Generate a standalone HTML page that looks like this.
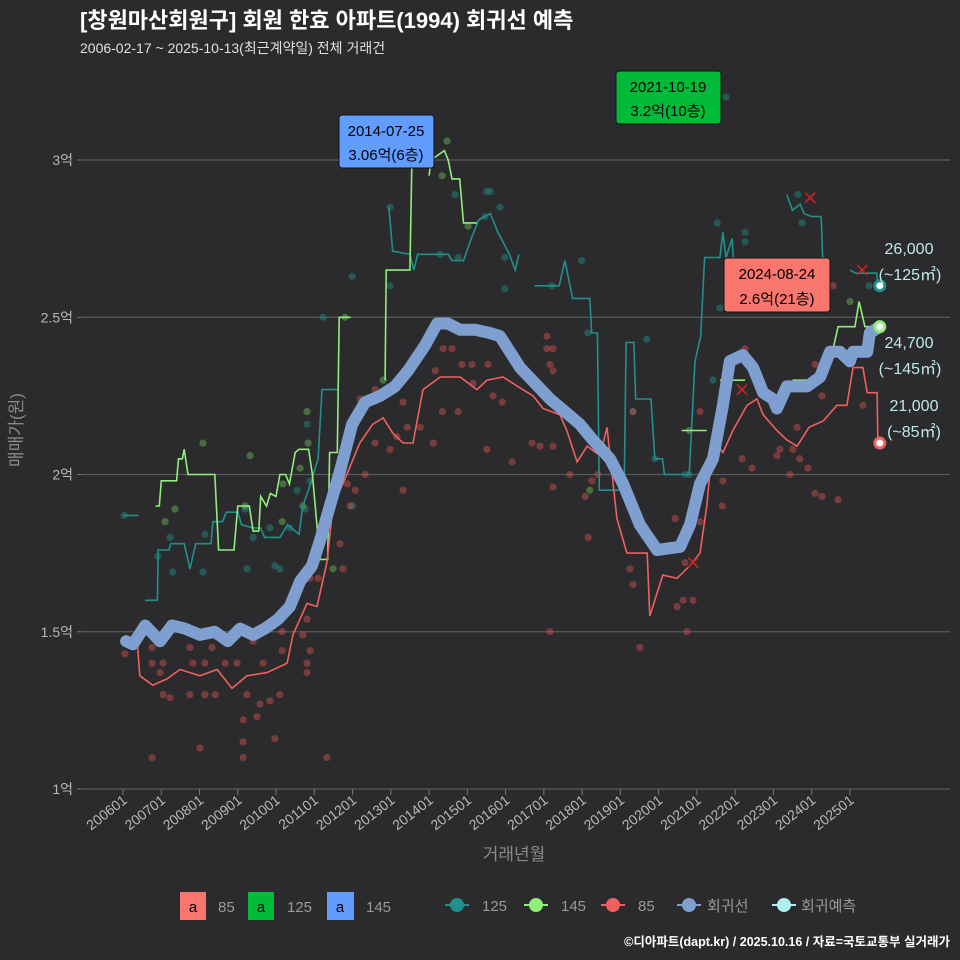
<!DOCTYPE html>
<html><head><meta charset="utf-8">
<style>
html,body{margin:0;padding:0;background:#2b2b2d;}
svg{display:block;font-family:"Liberation Sans","Noto Sans CJK KR",sans-serif;}
</style></head>
<body>
<svg id="chart" width="960" height="960" viewBox="0 0 960 960" xmlns="http://www.w3.org/2000/svg">
<rect x="0" y="0" width="960" height="960" fill="#2b2b2d"/>
<text x="80" y="28" fill="#ffffff" font-size="22" font-weight="bold">[창원마산회원구] 회원 한효 아파트(1994) 회귀선 예측</text>
<text x="80" y="53" fill="#e0e0e0" font-size="14">2006-02-17 ~ 2025-10-13(최근계약일) 전체 거래건</text>
<g id="grid"></g>
<g id="points"></g>
<g id="lines"></g>
<g id="marks"></g>
<text transform="translate(22,430) rotate(-90)" text-anchor="middle" fill="#8a8a8a" font-size="17">매매가(원)</text>
<text x="514" y="860" text-anchor="middle" fill="#8a8a8a" font-size="17">거래년월</text>

<g>
<rect x="339" y="115" width="95" height="53" rx="3" fill="#619cff" stroke="#111"/>
<text x="386" y="136" text-anchor="middle" font-size="15" fill="#000">2014-07-25</text>
<text x="386" y="160" text-anchor="middle" font-size="15" fill="#000">3.06억(6층)</text>
</g>
<g>
<rect x="616" y="71" width="105" height="53" rx="3" fill="#00ba38" stroke="#111"/>
<text x="668" y="92" text-anchor="middle" font-size="15" fill="#000">2021-10-19</text>
<text x="668" y="116" text-anchor="middle" font-size="15" fill="#000">3.2억(10층)</text>
</g>
<g>
<rect x="724" y="258" width="106" height="54" rx="3" fill="#f8766d" stroke="#111"/>
<text x="777" y="279" text-anchor="middle" font-size="15" fill="#000">2024-08-24</text>
<text x="777" y="304" text-anchor="middle" font-size="15" fill="#000">2.6억(21층)</text>
</g>
<g fill="#bfe9e6" font-size="16" text-anchor="middle">
<text x="909" y="254">26,000</text>
<text x="910" y="280">(~125㎡)</text>
<text x="909" y="348">24,700</text>
<text x="910" y="374">(~145㎡)</text>
<text x="914" y="411">21,000</text>
<text x="914" y="437">(~85㎡)</text>
</g>

<g font-size="15" fill="#9a9a9a">
<rect x="180" y="892" width="26" height="28" fill="#f8766d"/>
<text x="193" y="912" text-anchor="middle" fill="#000">a</text>
<text x="218" y="912">85</text>
<rect x="248" y="892" width="26" height="28" fill="#00ba38"/>
<text x="261" y="912" text-anchor="middle" fill="#000">a</text>
<text x="287" y="912">125</text>
<rect x="327" y="892" width="27" height="28" fill="#619cff"/>
<text x="340" y="912" text-anchor="middle" fill="#000">a</text>
<text x="366" y="912">145</text>
<g><line x1="445" y1="905" x2="469" y2="905" stroke="#21908c" stroke-width="2"/><circle cx="457" cy="905" r="7" fill="#21908c"/></g>
<text x="482" y="911">125</text>
<g><line x1="524" y1="905" x2="548" y2="905" stroke="#90ee7a" stroke-width="2"/><circle cx="536" cy="905" r="7" fill="#90ee7a"/></g>
<text x="561" y="911">145</text>
<g><line x1="601" y1="905" x2="625" y2="905" stroke="#f0605f" stroke-width="2"/><circle cx="613" cy="905" r="7" fill="#f0605f"/></g>
<text x="638" y="911">85</text>
<g><line x1="677" y1="905" x2="701" y2="905" stroke="#7f9fd0" stroke-width="2"/><circle cx="689" cy="905" r="7" fill="#7f9fd0"/></g>
<text x="707" y="911">회귀선</text>
<g><line x1="772" y1="905" x2="796" y2="905" stroke="#aef0ee" stroke-width="2"/><circle cx="784" cy="905" r="7" fill="#aef0ee"/></g>
<text x="801" y="911">회귀예측</text>
</g>
<text x="950" y="946" text-anchor="end" fill="#ffffff" font-size="12.5" font-weight="bold">©디아파트(dapt.kr) / 2025.10.16 / 자료=국토교통부 실거래가</text>
</svg>
<script>
const yTicks = [1, 1.5, 2, 2.5, 3];
const yTickLabels = ["1억", "1.5억", "2억", "2.5억", "3억"];
const xTickYears = [2006,2007,2008,2009,2010,2011,2012,2013,2014,2015,2016,2017,2018,2019,2020,2021,2022,2023,2024,2025];
const xTickLabels = ["200601","200701","200801","200901","201001","201101","201201","201301","201401","201501","201601","201701","201801","201901","202001","202101","202201","202301","202401","202501"];

const regressionLine = [[2006.08,1.47],[2006.26,1.46],[2006.58,1.52],[2006.97,1.47],[2007.28,1.52],[2007.62,1.51],[2008.01,1.49],[2008.4,1.50],[2008.74,1.47],[2009.06,1.51],[2009.4,1.49],[2009.71,1.51],[2010.05,1.54],[2010.36,1.58],[2010.63,1.66],[2010.94,1.71],[2011.15,1.79],[2011.36,1.88],[2011.67,2.01],[2011.99,2.16],[2012.33,2.23],[2012.72,2.25],[2013.11,2.28],[2013.45,2.33],[2013.89,2.41],[2014.21,2.48],[2014.49,2.48],[2014.81,2.46],[2015.2,2.46],[2015.59,2.45],[2015.85,2.44],[2016.38,2.34],[2017.16,2.24],[2017.94,2.16],[2018.28,2.11],[2018.73,2.05],[2019.07,1.97],[2019.51,1.84],[2019.96,1.76],[2020.56,1.77],[2020.82,1.84],[2021.08,1.97],[2021.42,2.05],[2021.68,2.22],[2021.86,2.36],[2022.2,2.38],[2022.47,2.34],[2022.73,2.26],[2022.99,2.24],[2023.09,2.21],[2023.35,2.28],[2023.88,2.28],[2024.22,2.31],[2024.48,2.39],[2024.74,2.39],[2025.0,2.36],[2025.08,2.39],[2025.45,2.39],[2025.52,2.45],[2025.78,2.47]];

const line85 = [[2006.1,1.47],[2006.37,1.47],[2006.44,1.36],[2006.78,1.33],[2007.15,1.35],[2007.49,1.38],[2008.01,1.36],[2008.46,1.38],[2008.85,1.32],[2009.24,1.36],[2009.76,1.37],[2010.29,1.40],[2010.44,1.49],[2010.81,1.59],[2011.07,1.58],[2011.33,1.72],[2011.49,1.90],[2011.85,2.0],[2012.19,2.1],[2012.53,2.16],[2012.8,2.18],[2013.06,2.13],[2013.32,2.10],[2013.58,2.10],[2013.84,2.27],[2014.29,2.31],[2014.81,2.31],[2015.25,2.27],[2015.51,2.30],[2015.93,2.31],[2016.32,2.28],[2016.72,2.25],[2016.98,2.21],[2017.42,2.19],[2017.6,2.14],[2017.87,2.04],[2018.13,2.09],[2018.47,2.06],[2018.65,2.15],[2018.91,1.86],[2019.17,1.75],[2019.7,1.75],[2019.77,1.55],[2020.11,1.68],[2020.48,1.67],[2020.82,1.71],[2021.08,1.75],[2021.26,1.90],[2021.42,2.11],[2021.68,2.07],[2021.94,2.14],[2022.31,2.22],[2022.57,2.24],[2022.73,2.19],[2023.09,2.14],[2023.35,2.11],[2023.62,2.09],[2023.93,2.15],[2024.3,2.17],[2024.66,2.22],[2024.92,2.22],[2025.08,2.34],[2025.34,2.34],[2025.45,2.26],[2025.71,2.26],[2025.73,2.10]];

const line125 = [[2006.0,1.87],[2006.4,1.87],null,[2006.58,1.60],[2006.9,1.60],[2006.92,1.76],[2007.2,1.76],[2007.25,1.78],[2007.6,1.78],[2007.75,1.70],[2007.9,1.78],[2008.3,1.78],[2008.35,1.85],[2008.6,1.85],[2008.7,1.88],[2009.0,1.88],[2009.1,1.84],[2009.4,1.83],[2009.6,1.83],[2009.7,1.80],[2010.1,1.80],[2010.3,1.84],[2010.6,1.81],[2010.7,1.90],[2010.9,1.97],[2011.1,2.05],[2011.2,2.27],[2011.6,2.27],null,[2012.95,2.85],[2013.05,2.71],[2013.5,2.70],[2013.6,2.65],[2013.7,2.70],[2014.5,2.70],[2014.6,2.68],[2014.9,2.68],[2015.1,2.75],[2015.3,2.81],[2015.6,2.83],[2015.8,2.77],[2016.1,2.70],[2016.25,2.65],[2016.35,2.70],null,[2016.75,2.60],[2017.4,2.60],[2017.55,2.68],[2017.75,2.56],[2018.2,2.56],[2018.25,2.45],[2018.4,2.45],[2018.45,1.95],[2019.1,1.95],[2019.15,2.42],[2019.35,2.42],[2019.4,2.24],[2019.8,2.24],[2019.9,2.05],[2020.1,2.05],[2020.15,2.0],[2020.8,2.0],[2020.95,2.36],[2021.1,2.44],[2021.2,2.69],[2021.6,2.69],[2021.68,2.77],[2021.76,2.69],[2021.92,2.75],[2021.95,2.69],null,[2023.35,2.89],[2023.5,2.84],[2023.7,2.86],[2023.8,2.83],[2024.0,2.82],[2024.25,2.82],[2024.3,2.64],null,[2025.0,2.65],[2025.15,2.64],[2025.7,2.64],[2025.73,2.60]];

const line145 = [[2006.85,1.90],[2006.95,1.90],[2007.0,1.98],[2007.4,1.98],[2007.45,2.05],[2007.55,2.05],[2007.6,2.08],[2007.7,2.0],[2008.4,2.0],[2008.5,1.76],[2008.9,1.76],[2009.0,1.90],[2009.3,1.90],[2009.4,1.82],[2009.55,1.82],[2009.6,1.93],[2009.75,1.90],[2009.85,1.94],[2010.0,1.93],[2010.1,2.0],[2010.25,2.0],[2010.35,1.97],[2010.5,2.07],[2010.6,2.08],[2010.85,2.08],[2010.95,2.0],[2011.15,1.73],[2011.35,1.73],[2011.4,2.07],[2011.6,2.07],[2011.65,2.5],[2011.95,2.5],null,[2012.85,2.30],[2012.88,2.65],[2013.5,2.65],[2013.55,3.0],[2013.6,3.0],null,[2014.0,2.95],[2014.05,3.0],[2014.4,3.03],[2014.5,3.0],[2014.6,2.94],[2014.8,2.94],[2014.9,2.8],[2015.25,2.8],null,[2020.6,2.14],[2021.26,2.14],null,[2021.6,2.30],[2022.26,2.30],null,[2023.5,2.30],[2024.16,2.30],null,[2024.56,2.40],[2024.69,2.47],[2025.13,2.47],[2025.24,2.55],[2025.39,2.47],[2025.71,2.47]];

const points85 = [[2006.05,1.43],[2006.76,1.45],[2006.76,1.40],[2007.05,1.40],[2006.97,1.37],[2007.05,1.30],[2007.23,1.29],[2006.76,1.10],[2007.75,1.45],[2007.83,1.40],[2007.75,1.30],[2008.01,1.13],[2008.14,1.40],[2008.14,1.30],[2008.41,1.30],[2008.33,1.45],[2008.67,1.40],[2008.98,1.40],[2009.14,1.22],[2009.14,1.15],[2009.14,1.10],[2009.5,1.23],[2009.58,1.27],[2009.84,1.28],[2009.97,1.16],[2010.1,1.30],[2009.24,1.30],[2009.4,1.47],[2009.66,1.40],[2010.16,1.50],[2010.16,1.44],[2010.7,1.49],[2010.89,1.44],[2010.81,1.40],[2010.81,1.37],[2010.81,1.54],[2010.89,1.67],[2011.1,1.67],[2011.33,1.10],[2011.67,1.78],[2011.75,1.70],[2011.86,1.97],[2011.94,1.90],[2012.07,1.95],[2012.33,2.00],[2012.59,2.10],[2012.2,2.24],[2012.59,2.27],[2012.98,2.08],[2013.16,2.12],[2013.32,1.95],[2013.32,2.23],[2013.43,2.15],[2013.77,2.15],[2014.11,2.10],[2014.16,2.33],[2014.35,2.20],[2014.37,2.40],[2014.6,2.40],[2014.76,2.20],[2014.86,2.35],[2015.12,2.35],[2015.15,2.29],[2015.54,2.35],[2015.67,2.25],[2015.51,2.08],[2015.91,2.23],[2016.17,2.04],[2017.08,2.44],[2017.24,2.40],[2017.08,2.40],[2017.16,2.35],[2017.24,2.33],[2016.69,2.10],[2016.9,2.09],[2017.24,2.09],[2017.24,1.96],[2017.68,2.00],[2018.08,1.93],[2018.16,1.80],[2018.41,2.00],[2018.26,1.98],[2019.33,2.20],[2019.25,1.70],[2019.33,1.65],[2017.16,1.50],[2019.51,1.45],[2020.43,1.86],[2020.69,1.72],[2020.48,1.58],[2020.64,1.60],[2020.9,1.60],[2020.74,1.50],[2021.08,1.85],[2021.08,2.20],[2021.68,1.98],[2021.66,1.90],[2022.18,2.05],[2022.44,2.02],[2022.26,2.40],[2023.17,2.08],[2023.09,2.06],[2023.43,2.00],[2023.51,2.08],[2023.9,2.02],[2024.09,1.94],[2024.27,1.93],[2024.69,1.92],[2023.69,2.05],[2023.62,2.15],[2024.27,2.25],[2024.09,2.35],[2024.56,2.60],[2025.34,2.22]];

const points125 = [[2006.03,1.87],[2006.91,1.74],[2007.23,1.80],[2007.3,1.69],[2008.09,1.69],[2008.14,1.81],[2009.19,1.89],[2009.24,1.70],[2009.4,1.80],[2009.84,1.83],[2009.97,1.71],[2010.1,1.70],[2010.36,1.83],[2010.55,1.95],[2010.76,1.89],[2010.81,2.16],[2010.89,1.98],[2011.23,2.50],[2011.99,2.63],[2012.0,1.90],[2012.98,2.60],[2012.98,2.85],[2014.29,2.70],[2014.76,2.69],[2015.46,2.82],[2015.51,2.90],[2015.6,2.90],[2015.85,2.85],[2015.98,2.69],[2014.68,2.89],[2015.98,2.59],[2017.21,2.60],[2017.99,2.68],[2018.15,2.45],[2019.69,2.43],[2019.33,2.20],[2019.9,2.05],[2020.69,2.00],[2020.8,2.00],[2021.42,2.30],[2021.53,2.80],[2021.6,2.53],[2022.26,2.77],[2022.26,2.74],[2021.76,3.20],[2023.64,2.89],[2023.75,2.80],[2025.5,2.60]];

const points145 = [[2007.1,1.85],[2007.36,1.89],[2008.09,2.10],[2009.19,1.90],[2009.32,2.06],[2010.16,1.85],[2010.18,1.97],[2010.63,2.02],[2010.7,1.90],[2010.84,2.10],[2010.81,2.20],[2011.8,2.50],[2011.49,1.70],[2013.16,2.30],[2012.8,2.30],[2014.34,2.95],[2014.47,3.06],[2015.02,2.79],[2018.2,1.95],[2025.0,2.55],[2020.8,2.14],[2021.8,2.30]];

const crossMarks = [[2023.96,2.88],[2025.32,2.65],[2022.18,2.27],[2020.9,1.72]];
const endValues = [2.60, 2.47, 2.10];
const endYear = 2025.78;

const X0 = 123, XS = 38.26, Y0 = 789, YS = 314.5;
function xs(yr){ return X0 + (yr - 2006) * XS; }
function ys(v){ return Y0 - (v - 1) * YS; }
const NS = "http://www.w3.org/2000/svg";
function mk(tag, attrs, parent){
  const e = document.createElementNS(NS, tag);
  for (const k in attrs) e.setAttribute(k, attrs[k]);
  parent.appendChild(e);
  return e;
}
const grid = document.getElementById('grid');
yTicks.forEach((v, i) => {
  const gl = mk('line', {x1: 82, x2: 950, y1: ys(v), y2: ys(v), stroke: '#5a5a5a', 'stroke-width': 1.2}, grid);
  
  
  const tk = mk('line', {x1: 77, x2: 82, y1: ys(v), y2: ys(v), stroke: '#777'}, grid);
  
  
  const t = mk('text', {x: 73, y: ys(v) + 5, 'text-anchor': 'end', fill: '#b8b8b8', 'font-size': 14}, grid);
  t.textContent = yTickLabels[i];
  
  
});
xTickYears.forEach((yr, i) => {
  const x = xs(yr);
  const tk = mk('line', {x1: x, x2: x, y1: 789, y2: 795, stroke: '#777'}, grid);
  
  
  const t = mk('text', {transform: `translate(${x + 5},${802}) rotate(-38)`, 'text-anchor': 'end', fill: '#b8b8b8', 'font-size': 14}, grid);
  t.textContent = xTickLabels[i];
  
  
});

const pts = document.getElementById('points');
function drawPoints(arr, color, name){
  arr.forEach(p => {
    const c = mk('circle', {cx: xs(p[0]), cy: ys(p[1]), r: 3.6, fill: color, 'fill-opacity': 0.45}, pts);
    
    
  });
}
drawPoints(points125, '#21908c', 'point-125');
drawPoints(points145, '#6fbf5a', 'point-145');
drawPoints(points85, '#d9514f', 'point-85');

const lines = document.getElementById('lines');
function pathFrom(arr){
  let d = '', pen = false;
  arr.forEach(p => {
    if (!p) { pen = false; return; }
    d += (pen ? 'L' : 'M') + xs(p[0]).toFixed(1) + ',' + ys(p[1]).toFixed(1);
    pen = true;
  });
  return d;
}
const p125 = mk('path', {d: pathFrom(line125), fill: 'none', stroke: '#21908c', 'stroke-width': 1.6}, lines);


const p145 = mk('path', {d: pathFrom(line145), fill: 'none', stroke: '#90ee7a', 'stroke-width': 1.6}, lines);


const p85 = mk('path', {d: pathFrom(line85), fill: 'none', stroke: '#f0605f', 'stroke-width': 1.6}, lines);


const preg = mk('path', {d: pathFrom(regressionLine), fill: 'none', stroke: '#7f9fd0', 'stroke-width': 12, 'stroke-linecap': 'round', 'stroke-linejoin': 'round'}, lines);



const marks = document.getElementById('marks');
crossMarks.forEach(p => {
  const x = xs(p[0]), y = ys(p[1]);
  const g = mk('path', {d: `M${x-5},${y-5}L${x+5},${y+5}M${x-5},${y+5}L${x+5},${y-5}`, stroke: '#d42020', 'stroke-width': 1.6}, marks);
  
  
});
const endColors = ['#21908c', '#90ee7a', '#f0605f'];
const endNames = ['end-point-125', 'end-point-145', 'end-point-85'];
endValues.forEach((v, i) => {
  const c = mk('circle', {cx: xs(endYear), cy: ys(v), r: 5, fill: '#ffffff', stroke: endColors[i], 'stroke-width': 3}, marks);
  
  
});
</script>
</body></html>
